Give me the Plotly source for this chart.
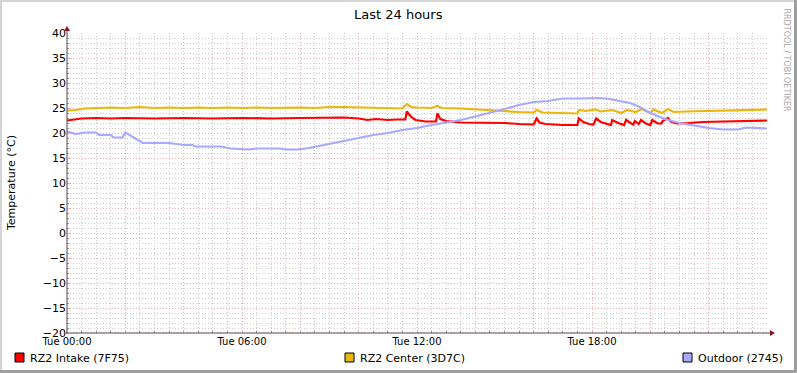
import plotly.graph_objects as go

# ---- data (hours since Tue 00:00, temperature °C) ----
intake_t = [0, 0.5, 1, 1.5, 2, 3, 4, 5, 6, 7, 8, 9, 9.5, 10, 10.3, 10.6, 11, 11.3, 11.6,
            11.65, 11.8, 11.95, 12.3, 12.65, 12.7, 12.8, 13, 13.5, 14, 15, 15.5, 16,
            16.1, 16.2, 16.4, 17, 17.5, 17.55, 17.7, 17.9, 18.05, 18.14, 18.3, 18.5, 18.65,
            18.69, 18.9, 19.1, 19.17, 19.35, 19.42, 19.47, 19.6, 19.68, 19.85, 20.0, 20.07,
            20.25, 20.38, 20.42, 20.6, 20.7, 20.9, 21.3, 21.8, 22.5, 23, 23.5, 24]
intake_v = [22.5, 22.9, 23.0, 22.9, 23.0, 22.9, 23.0, 22.9, 23.0, 22.9, 23.0, 23.0, 23.1, 22.9, 22.6, 22.8, 22.6, 22.7, 22.7,
            24.3, 23.2, 22.6, 22.3, 22.3, 23.9, 22.8, 22.4, 22.1, 22.1, 22.0, 21.8, 21.7,
            22.9, 22.1, 21.8, 21.6, 21.6, 22.9, 22.2, 21.8, 21.7, 22.9, 22.2, 21.8, 21.6,
            22.6, 22.0, 21.6, 22.6, 21.9, 21.7, 22.4, 21.8, 22.6, 21.9, 21.6, 22.6,
            21.9, 21.9, 22.4, 23.0, 22.3, 21.9, 22.0, 22.2, 22.3, 22.4, 22.5, 22.5]

center_t = [0, 0.3, 0.6, 1, 1.5, 2, 2.5, 3, 3.5, 4, 4.5, 5, 5.5, 6, 6.5, 7, 7.5, 8, 8.5, 9,
            9.5, 10, 10.5, 11, 11.5, 11.65, 11.8, 12, 12.5, 12.7, 12.85, 13.5, 14, 14.5, 15,
            15.5, 16, 16.1, 16.3, 17, 17.5, 17.55, 17.8, 18.1, 18.3, 18.7, 19.0, 19.2, 19.5,
            19.7, 20.0, 20.1, 20.4, 20.6, 20.8, 21.2, 22, 23, 24]
center_v = [24.5, 24.6, 24.9, 25.0, 25.1, 25.0, 25.2, 25.0, 25.1, 25.0, 25.1, 25.0, 25.1, 25.0, 25.1, 25.0, 25.1, 25.1, 25.0, 25.2,
            25.2, 25.1, 25.0, 25.0, 24.9, 25.8, 25.2, 25.1, 25.0, 25.4, 25.0, 24.9, 24.7, 24.6, 24.4,
            24.2, 24.1, 24.6, 24.1, 23.9, 23.9, 24.6, 24.4, 24.7, 24.3, 24.6, 24.0, 24.6, 24.2,
            24.8, 24.0, 24.7, 24.0, 24.8, 24.2, 24.3, 24.4, 24.5, 24.7]

outdoor_t = [0, 0.3, 0.6, 1, 1.1, 1.5, 1.6, 1.9, 2.0, 2.15, 2.5, 2.6, 3.5, 3.8, 4, 4.3, 4.4,
             5.3, 5.6, 6.2, 6.5, 7.3, 7.5, 7.9, 8.3, 8.8, 9.5, 10, 10.5, 11, 11.5, 12, 12.5,
             13, 13.5, 14, 14.5, 15, 15.5, 16, 16.5, 17, 17.5, 18, 18.3, 18.6, 19, 19.3, 19.6,
             19.9, 20.2, 20.5, 21, 21.5, 22, 22.5, 23, 23.3, 23.6, 24]
outdoor_v = [20.3, 19.8, 20.1, 20.1, 19.6, 19.6, 19.1, 19.1, 20.1, 19.6, 18.3, 18.0, 18.0, 17.8, 17.6, 17.6, 17.3,
             17.3, 16.9, 16.7, 16.9, 16.9, 16.7, 16.7, 17.0, 17.6, 18.5, 19.0, 19.6, 20.0, 20.6, 21.0, 21.6,
             22.1, 22.6, 23.3, 24.0, 24.8, 25.6, 26.2, 26.4, 26.9, 26.9, 27.0, 27.0, 26.8, 26.4, 26.0, 25.3,
             24.3, 23.5, 22.8, 22.0, 21.5, 21.0, 20.7, 20.7, 21.1, 21.0, 20.9]

series_names = ["RZ2 Intake (7F75)", "RZ2 Center (3D7C)", "Outdoor (2745)"]
series_colors = ["#FF0000", "#E8B80C", "#A8A8FF"]

x_major = [0, 2, 4, 6, 8, 10, 12, 14, 16, 18, 20, 22, 24]
x_labels = ["Tue 00:00", "", "", "Tue 06:00", "", "", "Tue 12:00", "", "", "Tue 18:00", "", "", ""]
y_ticks = [-20, -15, -10, -5, 0, 5, 10, 15, 20, 25, 30, 35, 40]

W, H = 797, 373
L, R, T, B = 67, 767, 33, 333
FONT = "DejaVu Sans"

def px(x):
    return (x - L) / (R - L)

def py(y):
    return (B - y) / (B - T)

fig = go.Figure()
for t, v, name, col in zip([intake_t, center_t, outdoor_t], [intake_v, center_v, outdoor_v],
                           series_names, series_colors):
    fig.add_trace(go.Scatter(x=t, y=v, mode="lines", name=name,
                             line=dict(color=col, width=2.2), showlegend=False))

grid_minor = "#CCCCCC"
grid_major = "#E8B0B0"
dotpat = "1px,2px"

fig.update_layout(
    width=W, height=H, autosize=False,
    margin=dict(l=L, r=W - R, t=T, b=H - B, pad=0),
    paper_bgcolor="white", plot_bgcolor="white",
    font=dict(family=FONT, size=10, color="#000000"),
    xaxis=dict(range=[0, 24], tickvals=x_major, ticktext=x_labels, automargin=False,
               showgrid=True, gridcolor=grid_major, griddash=dotpat, gridwidth=1,
               ticks="inside", ticklen=3, tickcolor=grid_major, ticklabelstandoff=1,
               minor=dict(dtick=0.5, showgrid=True, gridcolor=grid_minor, griddash=dotpat,
                          ticks="inside", ticklen=2, tickcolor="#999999"),
               zeroline=False, showline=False, tickfont=dict(size=10)),
    yaxis=dict(range=[-20, 40], tickvals=y_ticks, automargin=False,
               showgrid=True, gridcolor=grid_major, griddash=dotpat, gridwidth=1,
               ticks="inside", ticklen=3, tickcolor=grid_major,
               minor=dict(dtick=1, showgrid=True, gridcolor=grid_minor, griddash=dotpat,
                          ticks="inside", ticklen=2, tickcolor="#999999"),
               zeroline=False, showline=False, tickfont=dict(size=11)),
)

shapes = []
axis_col = "#5A4545"
arrow_col = "#8B1A1A"
# axes
shapes.append(dict(type="line", xref="paper", yref="paper", x0=px(L - 1), y0=py(B), x1=px(770), y1=py(B),
                   line=dict(color=axis_col, width=1)))
shapes.append(dict(type="line", xref="paper", yref="paper", x0=px(L), y0=py(B + 1), x1=px(L), y1=py(29),
                   line=dict(color=axis_col, width=1)))
# arrows
shapes.append(dict(type="path", xref="paper", yref="paper",
                   path=f"M {px(770)} {py(B-3)} L {px(775)} {py(B)} L {px(770)} {py(B+3)} Z",
                   fillcolor=arrow_col, line=dict(color=arrow_col, width=0)))
shapes.append(dict(type="path", xref="paper", yref="paper",
                   path=f"M {px(L-3)} {py(31)} L {px(L)} {py(26)} L {px(L+3)} {py(31)} Z",
                   fillcolor=arrow_col, line=dict(color=arrow_col, width=0)))
# frame (3D border)
shapes.append(dict(type="rect", xref="paper", yref="paper", x0=px(0), y0=py(0), x1=px(W), y1=py(2),
                   fillcolor="#D4D4D4", line=dict(width=0), layer="below"))
shapes.append(dict(type="rect", xref="paper", yref="paper", x0=px(0), y0=py(0), x1=px(2), y1=py(H),
                   fillcolor="#D4D4D4", line=dict(width=0), layer="below"))
shapes.append(dict(type="rect", xref="paper", yref="paper", x0=px(W - 3), y0=py(0), x1=px(W), y1=py(H),
                   fillcolor="#9E9E9E", line=dict(width=0), layer="below"))
shapes.append(dict(type="rect", xref="paper", yref="paper", x0=px(0), y0=py(H - 3), x1=px(W), y1=py(H),
                   fillcolor="#9E9E9E", line=dict(width=0), layer="below"))

annotations = []
# title
annotations.append(dict(x=px(398), y=py(14), xref="paper", yref="paper", text="Last 24 hours",
                        showarrow=False, xanchor="center", yanchor="middle",
                        font=dict(family=FONT, size=13, color="#000000")))
# y-axis title
annotations.append(dict(x=px(11), y=py(183), xref="paper", yref="paper", text="Temperature (°C)",
                        showarrow=False, textangle=-90, xanchor="center", yanchor="middle",
                        font=dict(family=FONT, size=11, color="#000000")))
# legend
legend_x = [15, 345, 683]
for lx, name, col in zip(legend_x, series_names, series_colors):
    shapes.append(dict(type="rect", xref="paper", yref="paper",
                       x0=px(lx), y0=py(353), x1=px(lx + 9), y1=py(362),
                       fillcolor=col, line=dict(color="#000000", width=1)))
    annotations.append(dict(x=px(lx + 13), y=py(358), xref="paper", yref="paper",
                            text=name, showarrow=False, xanchor="left", yanchor="middle",
                            font=dict(family=FONT, size=11, color="#000000")))
# watermark
annotations.append(dict(x=px(786), y=py(6), xref="paper", yref="paper",
                        text="RRDTOOL / TOBI OETIKER", showarrow=False, textangle=90,
                        xanchor="center", yanchor="top",
                        font=dict(family=FONT, size=8, color="#A8A8A8")))

fig.update_layout(shapes=shapes, annotations=annotations)
fig.write_html("out.html", config={"displayModeBar": False, "staticPlot": True})

# remove default page margin so the figure sits at the window's top-left corner
with open("out.html", "r", encoding="utf-8") as f:
    html = f.read()
html = html.replace("<head>", "<head><style>html,body{margin:0;padding:0;overflow:hidden;}</style>", 1)
with open("out.html", "w", encoding="utf-8") as f:
    f.write(html)
